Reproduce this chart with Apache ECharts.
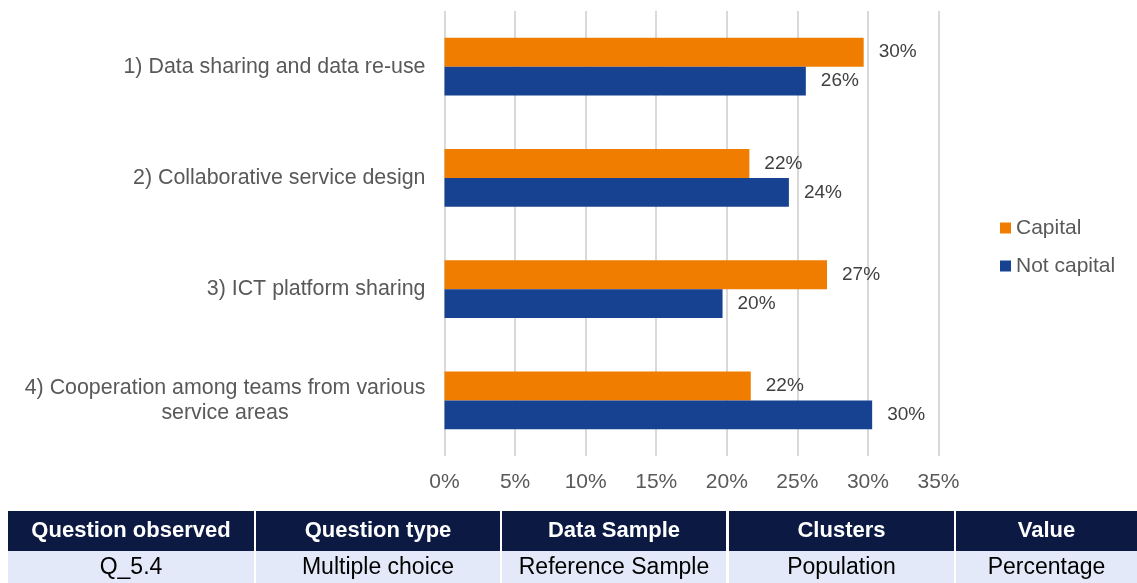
<!DOCTYPE html>
<html>
<head>
<meta charset="utf-8">
<script src="https://cdn.jsdelivr.net/npm/echarts@6/dist/echarts.min.js"></script>
<style>
html,body{margin:0;padding:0;background:#fff;}
#chart{width:1137px;height:583px;}
</style>
</head>
<body>
<div id="chart"></div>
<script>
// ---- data ----
const categories = [
  "1) Data sharing and data re-use",
  "2) Collaborative service design",
  "3) ICT platform sharing",
  "4) Cooperation among teams from various\nservice areas"
];
const seriesNames = ["Capital", "Not capital"];
const capitalValues = [29.7, 21.6, 27.1, 21.7];
const notCapitalValues = [25.6, 24.4, 19.7, 30.3];
const xTicks = [0, 5, 10, 15, 20, 25, 30, 35];
const tableHeaders = ["Question observed", "Question type", "Data Sample", "Clusters", "Value"];
const tableValues = ["Q_5.4", "Multiple choice", "Reference Sample", "Population", "Percentage"];

// ---- styles ----
const FONT = '"Liberation Sans", Arial, sans-serif';
const FS = 21;
const YFS = 21.4;
const colors = ["#f07d00", "#174191"];

function measure(text, size, weight) {
  const c = document.createElement('canvas').getContext('2d');
  c.font = (weight || 'normal') + ' ' + size + 'px ' + FONT;
  return c.measureText(text).width;
}

const multiLineWidth = Math.ceil(Math.max(...categories.map(c => c.split('\n')[0]).map(t => measure(t, YFS))));

const chart = echarts.init(document.getElementById('chart'));

// table graphics
const colBounds = [[8, 254], [256, 500], [502, 726], [729, 954], [956, 1137]];
const headTop = 511, headH = 40, rowTop = 551, rowH = 32;
const graphics = [];
colBounds.forEach((b, i) => {
  const w = b[1] - b[0];
  graphics.push({type: 'rect', shape: {x: b[0], y: headTop, width: w, height: headH}, style: {fill: '#0c1a43'}, silent: true});
  graphics.push({type: 'rect', shape: {x: b[0], y: rowTop, width: w, height: rowH}, style: {fill: '#e3e9f8'}, silent: true});
  graphics.push({type: 'text', x: b[0] + w / 2, y: headTop + headH / 2, style: {text: tableHeaders[i], fill: '#ffffff', font: 'bold 22px ' + FONT, align: 'center', verticalAlign: 'middle'}, silent: true});
  graphics.push({type: 'text', x: b[0] + w / 2, y: rowTop + rowH / 2 + 1, style: {text: tableValues[i], fill: '#000000', font: '23px ' + FONT, align: 'center', verticalAlign: 'middle'}, silent: true});
});

const option = {
  animation: false,
  textStyle: {fontFamily: FONT},
  color: colors,
  grid: {left: 444.5, right: 198.5, top: 11, bottom: 127, containLabel: false},
  legend: {
    orient: 'vertical',
    left: 1000,
    top: 217,
    padding: 0,
    icon: 'rect',
    itemWidth: 11,
    itemHeight: 11,
    itemGap: 16,
    data: seriesNames,
    textStyle: {fontSize: FS, color: '#595959', fontFamily: FONT, lineHeight: 22}
  },
  xAxis: {
    type: 'value',
    min: 0, max: 35, interval: 5,
    axisLine: {show: false},
    axisTick: {show: false},
    splitLine: {show: true, lineStyle: {color: '#d9d9d9', width: 2}},
    axisLabel: {
      formatter: v => v + '%',
      customValues: xTicks,
      fontSize: FS, color: '#595959', margin: 16, fontFamily: FONT
    }
  },
  yAxis: {
    type: 'category',
    inverse: true,
    data: categories,
    axisLine: {show: false},
    axisTick: {show: false},
    axisLabel: {
      fontSize: YFS, color: '#595959', margin: 19, fontFamily: FONT,
      lineHeight: 25,
      formatter: function (v) {
        if (v.indexOf('\n') >= 0) {
          return v.split('\n').map(l => '{c|' + l + '}').join('\n');
        }
        return v;
      },
      rich: {
        c: {width: multiLineWidth, align: 'center', fontSize: YFS, color: '#595959', lineHeight: 25, fontFamily: FONT}
      }
    }
  },
  series: [
    {
      name: seriesNames[0], type: 'bar', data: capitalValues,
      barGap: '0%', barCategoryGap: '48%',
      itemStyle: {color: colors[0]},
      label: {show: true, position: 'right', distance: 15, formatter: p => Math.round(p.value) + '%', fontSize: 19, color: '#404040', fontFamily: FONT}
    },
    {
      name: seriesNames[1], type: 'bar', data: notCapitalValues,
      barGap: '0%', barCategoryGap: '48%',
      itemStyle: {color: colors[1]},
      label: {show: true, position: 'right', distance: 15, formatter: p => Math.round(p.value) + '%', fontSize: 19, color: '#404040', fontFamily: FONT}
    }
  ],
  graphic: graphics
};
chart.setOption(option);
</script>
</body>
</html>
